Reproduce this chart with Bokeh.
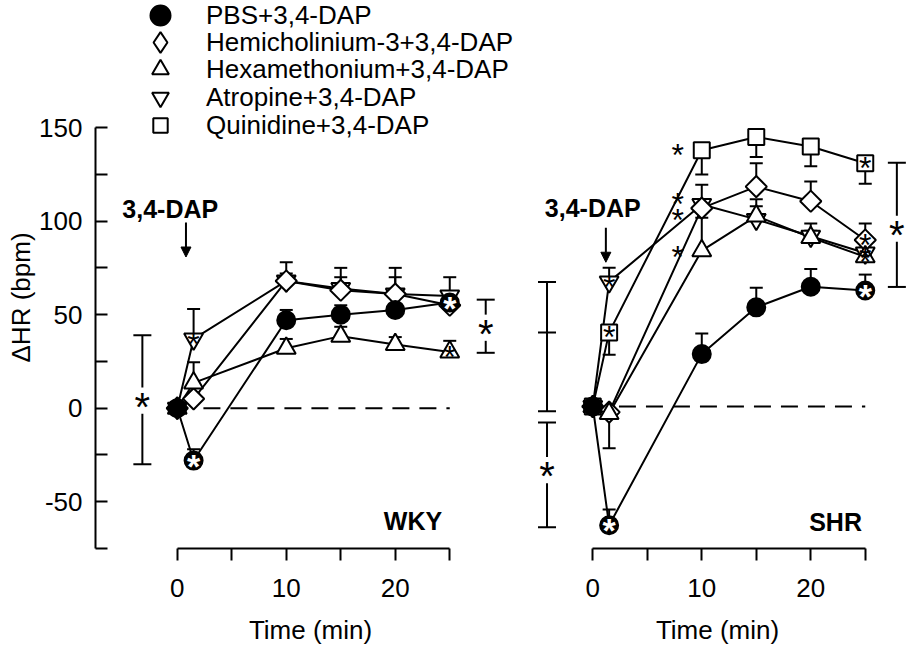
import math
from bokeh.plotting import figure
from bokeh.models import (ColumnDataSource, FixedTicker, Legend, LegendItem,
                          Title, Arrow, NormalHead)
from bokeh.layouts import row
from bokeh.embed import file_html
from bokeh.resources import INLINE
from bokeh.core.properties import value

FONT = "Liberation Sans"

# ---------------- data ----------------
times = [0, 1.5, 10, 15, 20, 25]
series_labels = ["PBS+3,4-DAP", "Hemicholinium-3+3,4-DAP", "Hexamethonium+3,4-DAP",
                 "Atropine+3,4-DAP", "Quinidine+3,4-DAP"]

# WKY (signed SEM: + drawn upward, - drawn downward)
wky_pbs = [0, -28, 47, 50, 52.5, 56.5]
wky_pbs_err = [0, 6, 5.5, 5, 3, 3]
wky_hemi = [0, 5, 68, 63, 61, 55]
wky_hemi_err = [0, 3, 4, 7, 9, 3]
wky_hexa = [0, 13.5, 32, 38.5, 34, 30]
wky_hexa_err = [0, 11, 5, 5, 4, 6]
wky_atro = [0, 37, 68, 64, 61, 60]
wky_atro_err = [0, 16, 10, 11, 14, 10]

# SHR
shr_pbs = [0, -63.5, 28, 53, 64, 62]
shr_pbs_err = [0, 8.5, 11, 10.5, 9.5, 8.5]
shr_hemi = [0, -3, 106, 117.5, 109.7, 89]
shr_hemi_err = [0, 2, 4, 12.5, 10.6, 8.8]
shr_hexa = [0, -3.7, 83.3, 101.8, 90.3, 80]
shr_hexa_err = [0, -18.6, 17.6, 9, 7.5, 3]
shr_atro = [0, 66.6, 108, 100, 91, 82]
shr_atro_err = [0, 7.5, 10.5, 7, 3, 3]
shr_quin = [0, 39.6, 137, 144, 139, 130]
shr_quin_err = [0, -12, -13, -10.6, -10.6, -11]

# significance stars inside markers: (series index, time index)
wky_sig = [(0, 1), (0, 5), (2, 5), (3, 1)]
shr_sig = [(0, 1), (0, 5), (4, 1), (4, 5), (1, 5), (2, 5), (3, 1), (3, 5)]
# stars beside the 10-min SHR points: (series, time index, dx px, dy px)
shr_side_sig = [(4, 2, -24, 0), (3, 2, -24, -5), (1, 2, -24, 7), (2, 2, -24, 2)]

# group comparison brackets: x, low, high, star y (None = no star), cap positions
wky_brackets = [(-3.2, -30, 39, 4, [-30, 39]), (28.3, 29.6, 58, 43, [29.6, 58])]
shr_brackets = [(-4.2, -2.5, 66.6, None, [-2.5, 39.6, 66.6]),
                (-4.2, -64.6, -8.6, -34, [-64.6, -8.6]),
                (27.9, 63.9, 130.3, 95, [63.9, 130.3])]

zero_line_x = [2.4, 25]
y_major = [-50, 0, 50, 100, 150]
y_minor = [-75, -25, 25, 75, 125]
x_major = [0, 10, 20]
x_minor = [5, 15, 25]

# ---------------- styles ----------------
markers = ["circle", "square", "triangle", "inverted_triangle", "square"]
legend_markers = ["circle", "diamond", "triangle", "inverted_triangle", "square"]
marker_sizes = [18, 15, 19, 19, 16]
marker_angles = [0, math.pi / 4, 0, 0, 0]
marker_fills = ["black", "white", "white", "white", "white"]
legend_boxes = [50, 52, 42, 42, 36]          # legend glyph box -> marker size 0.4*box
legend_rows = [15, 42, 69, 97, 125]          # row centres, px from top
draw_order = [3, 1, 2, 4, 0]
STAR_C = 0.15


def style(p):
    p.outline_line_color = None
    p.xgrid.visible = False
    p.ygrid.visible = False
    p.background_fill_color = "white"
    p.border_fill_color = "white"
    p.min_border = 0


def style_axis(ax, tin, tout, standoff):
    ax.axis_line_width = 2
    ax.axis_line_color = "black"
    ax.major_tick_line_width = 2
    ax.minor_tick_line_width = 2
    ax.major_tick_line_color = "black"
    ax.minor_tick_line_color = "black"
    ax.major_tick_in = tin
    ax.major_tick_out = tout
    ax.minor_tick_in = tin
    ax.minor_tick_out = tout
    ax.major_label_text_font = FONT
    ax.major_label_text_font_size = "26px"
    ax.major_label_text_color = "black"
    ax.major_label_standoff = standoff
    ax.axis_label_text_font = FONT
    ax.axis_label_text_font_size = "26px"
    ax.axis_label_text_font_style = "normal"
    ax.axis_label_text_color = "black"


def stars(p, xs, ys, size, color, bold=False, dx=None, dy=None):
    n = len(xs)
    dx = dx if dx is not None else [0] * n
    dy = dy if dy is not None else [0] * n
    src = ColumnDataSource(dict(x=xs, y=ys, t=["*"] * n, dx=dx,
                                dy=[STAR_C * size + d for d in dy]))
    p.text(x="x", y="y", text="t", source=src, x_offset="dx", y_offset="dy",
           text_font=value(FONT), text_font_size=value(f"{size}px"),
           text_color=color, text_align="center", text_baseline="alphabetic",
           text_font_style="bold" if bold else "normal")


def build_panel(p, ys, errs, sig, side_sig, brackets):
    p.line(zero_line_x, [0, 0], line_color="black", line_width=2, line_dash="17 10")
    for k in draw_order:
        if ys[k] is None:
            continue
        p.line(times, ys[k], line_color="black", line_width=2)
    for k in draw_order:
        if ys[k] is None:
            continue
        ex = [t for t, e in zip(times, errs[k]) if e != 0]
        e0 = [y for y, e in zip(ys[k], errs[k]) if e != 0]
        e1 = [y + e for y, e in zip(ys[k], errs[k]) if e != 0]
        p.segment(x0=ex, y0=e0, x1=ex, y1=e1, line_color="black", line_width=2)
        p.scatter(x=ex, y=e1, marker="dash", size=13, line_color="black", line_width=2)
    for k in draw_order:
        if ys[k] is None:
            continue
        p.scatter(x=times, y=ys[k], marker=markers[k], size=marker_sizes[k],
                  angle=marker_angles[k], fill_color=marker_fills[k],
                  line_color="black", line_width=2)
    wx = [times[i] for k, i in sig if k == 0]
    wy = [ys[0][i] for k, i in sig if k == 0]
    stars(p, wx, wy, 34, "white", bold=True)
    bx = [times[i] for k, i in sig if k != 0]
    by = [ys[k][i] for k, i in sig if k != 0]
    stars(p, bx, by, 32, "black")
    if side_sig:
        stars(p, [times[i] for k, i, a, b in side_sig], [ys[k][i] for k, i, a, b in side_sig],
              32, "black", dx=[a for k, i, a, b in side_sig], dy=[b for k, i, a, b in side_sig])
    gap = 7
    for bxv, lo, hi, st, caps in brackets:
        if st is None:
            p.segment(x0=[bxv], y0=[lo], x1=[bxv], y1=[hi], line_color="black", line_width=2)
        else:
            p.segment(x0=[bxv, bxv], y0=[lo, st + gap], x1=[bxv, bxv], y1=[st - gap, hi],
                      line_color="black", line_width=2)
            stars(p, [bxv], [st], 40, "black")
        p.scatter(x=[bxv] * len(caps), y=caps, marker="dash", size=18,
                  line_color="black", line_width=2)


H = 650
FRAME_LEFT, FRAME_BOTTOM = 95, 548
# ---------------- left panel (WKY) ----------------
p1 = figure(width=525, height=H, x_range=(-7.5, 31.95), y_range=(-75, 217.9),
            output_backend="svg", toolbar_location=None)
style(p1)
p1.min_border_left = FRAME_LEFT
p1.min_border_bottom = H - FRAME_BOTTOM
p1.xaxis.ticker = FixedTicker(ticks=x_major, minor_ticks=x_minor)
p1.yaxis.ticker = FixedTicker(ticks=y_major, minor_ticks=y_minor)
p1.yaxis.major_label_overrides = {-50: "-50"}
p1.xaxis.bounds = (0, 25)
p1.yaxis.bounds = (-75, 150)
style_axis(p1.xaxis[0], 0, 12, 18)
style_axis(p1.yaxis[0], 12, 0, 13)
p1.xaxis.axis_label = "Time (min)"
p1.xaxis.axis_label_standoff = 15

build_panel(p1, [wky_pbs, wky_hemi, wky_hexa, wky_atro, None],
            [wky_pbs_err, wky_hemi_err, wky_hexa_err, wky_atro_err, None],
            wky_sig, [], wky_brackets)

# legend keys (glyph renderers without data points of their own)
for k in range(5):
    r = p1.scatter(x=[0], y=[float("nan")], marker=legend_markers[k],
                   fill_color=marker_fills[k], line_color="black", line_width=2)
    g = legend_boxes[k]
    c = legend_rows[k]
    lg = Legend(items=[LegendItem(label=series_labels[k], renderers=[r])],
                location=(65 - g // 2, FRAME_BOTTOM - c - g // 2), orientation="vertical",
                glyph_width=g, glyph_height=g, label_height=g, spacing=0,
                padding=0, margin=0, label_standoff=46 - g // 2,
                label_text_font=FONT, label_text_font_size="26px", label_text_color="black",
                border_line_color=None, background_fill_alpha=0)
    p1.add_layout(lg)

p1.text(x=[-0.64], y=[106.7], text=["3,4-DAP"], text_font=value(FONT),
        text_font_size=value("25px"), text_font_style="bold", text_align="center",
        text_baseline="alphabetic")
p1.text(x=[24.3], y=[-60.2], text=["WKY"], text_font=value(FONT),
        text_font_size=value("25px"), text_font_style="bold", text_align="right",
        text_baseline="alphabetic")
p1.add_layout(Arrow(end=NormalHead(size=10, fill_color="black", line_color="black", line_width=1),
                    x_start=0.8, y_start=99.3, x_end=0.8, y_end=80.8,
                    line_color="black", line_width=2))
p1.add_layout(Title(text="ΔHR (bpm)", align="left", offset=186, standoff=2,
                    text_font=FONT, text_font_size="26px", text_font_style="normal",
                    text_color="black"), "left")

# ---------------- right panel (SHR) ----------------
p2 = figure(width=909 - 525, height=H, x_range=(-6.174, 29.06), y_range=(-75.9, 217.0),
            output_backend="svg", toolbar_location=None, y_axis_location=None)
style(p2)
p2.min_border_bottom = H - FRAME_BOTTOM
p2.xaxis.ticker = FixedTicker(ticks=x_major, minor_ticks=x_minor)
p2.xaxis.bounds = (0, 25)
style_axis(p2.xaxis[0], 0, 12, 18)
p2.xaxis.axis_label = "Time (min)"
p2.xaxis.axis_label_standoff = 15

build_panel(p2, [shr_pbs, shr_hemi, shr_hexa, shr_atro, shr_quin],
            [shr_pbs_err, shr_hemi_err, shr_hexa_err, shr_atro_err, shr_quin_err],
            shr_sig, shr_side_sig, shr_brackets)

p2.text(x=[0], y=[106.2], text=["3,4-DAP"], text_font=value(FONT),
        text_font_size=value("25px"), text_font_style="bold", text_align="center",
        text_baseline="alphabetic")
p2.text(x=[24.7], y=[-61.6], text=["SHR"], text_font=value(FONT),
        text_font_size=value("25px"), text_font_style="bold", text_align="right",
        text_baseline="alphabetic")
p2.add_layout(Arrow(end=NormalHead(size=10, fill_color="black", line_color="black", line_width=1),
                    x_start=1.2, y_start=95.6, x_end=1.2, y_end=77.1,
                    line_color="black", line_width=2))

layout = row(p1, p2)
open("out.html", "w").write(file_html(layout, INLINE))
